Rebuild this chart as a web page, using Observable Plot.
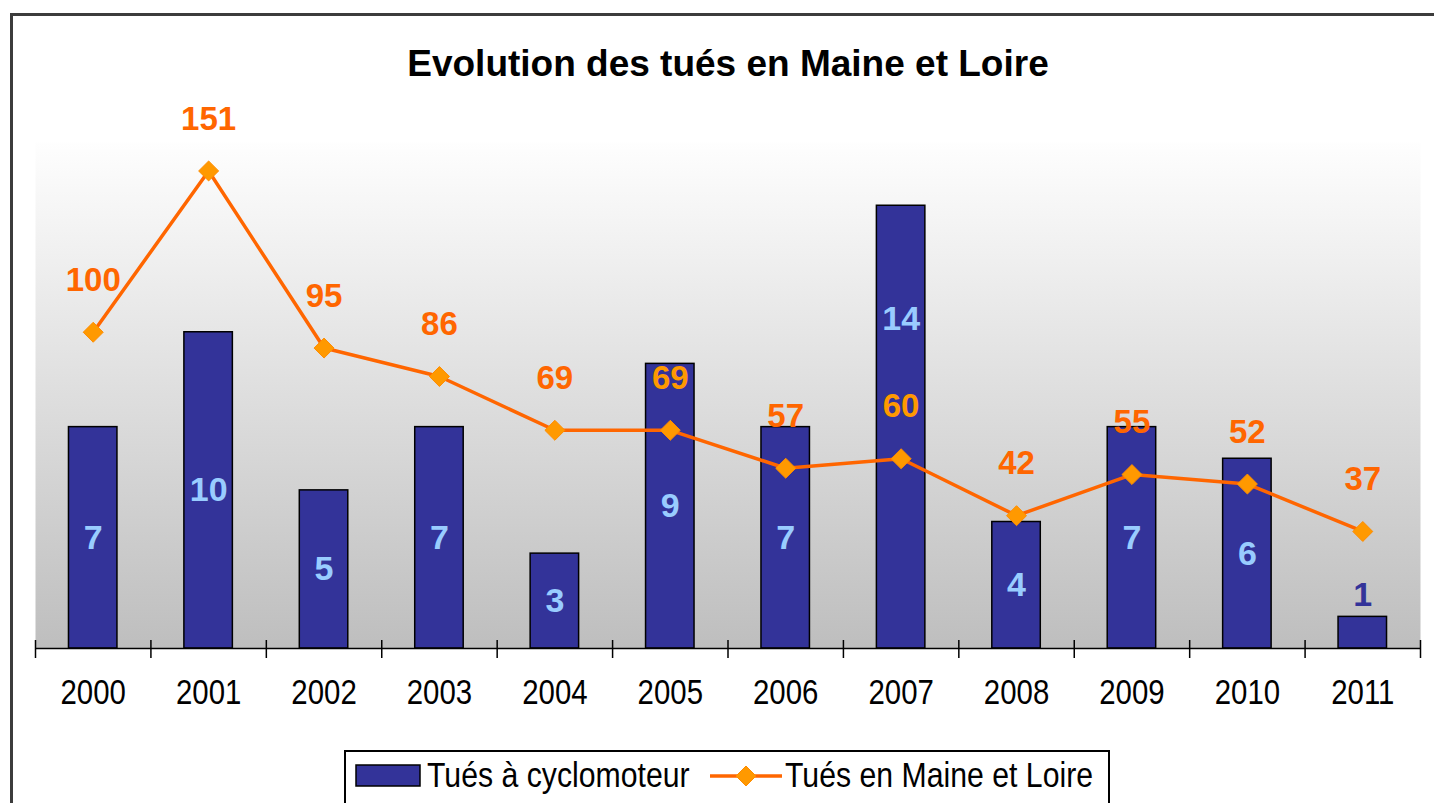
<!DOCTYPE html>
<html><head><meta charset="utf-8">
<script src="https://cdn.jsdelivr.net/npm/d3@7"></script>
<script src="https://cdn.jsdelivr.net/npm/@observablehq/plot@0.6"></script>
<style>
html,body{margin:0;padding:0;background:#fff;overflow:hidden;}
#wrap{position:relative;width:1434px;height:803px;overflow:hidden;background:#fff;}
#frame{position:absolute;left:10px;top:13px;width:2000px;height:2000px;border:3px solid #3c3c3c;box-sizing:border-box;}
#title{position:absolute;left:0;width:1456px;top:45px;text-align:center;font:bold 37px "Liberation Sans",Arial,sans-serif;line-height:37px;color:#000;}
#chart{position:absolute;left:0;top:0;}
#legend{position:absolute;left:344px;top:750px;width:766px;height:90px;border:2px solid #000;background:#fff;box-sizing:border-box;}
#legend svg{display:block;}
</style>
</head><body>
<div id="wrap">
  <div id="frame"></div>
  <div id="chart"></div>
  <div id="title">Evolution des tués en Maine et Loire</div>
  <div id="legend"></div>
</div>
<script>
const years = ["2000","2001","2002","2003","2004","2005","2006","2007","2008","2009","2010","2011"];
const moped = [7,10,5,7,3,9,7,14,4,7,6,1];           // Tués à cyclomoteur (axe 0–16)
const total = [100,151,95,86,69,69,57,60,42,55,52,37]; // Tués en Maine et Loire (axe 0–160)
const seriesNames = ["Tués à cyclomoteur","Tués en Maine et Loire"];

const W = 1434, H = 803, mL = 35, mR = 14, mT = 142, mB = 155;
const yMax = 160, barRatio = 10; // secondary axis 0–16 mapped on 0–160
const pxPerUnit = (H - mT - mB) / yMax;
const step = (W - mL - mR) / years.length;
const data = years.map((y, i) => ({year: y, moped: moped[i], total: total[i]}));

const lineDy = -52;
const lineLabelColor = d => (d.total + (-lineDy) / pxPerUnit) < d.moped * barRatio ? "#FF9900" : "#FF6600";

// bar label placement: centered, moved up when it would hit the line label, above bar if bar too short
function barLabelY(d) {
  const h = d.moped * barRatio;
  if (h < 20) return h + 7;
  const mid = h / 2;
  if (Math.abs(mid - d.total) < 15) return h - 36;
  return mid;
}
const barLabelColor = d => d.moped * barRatio < 20 ? "#333399" : "#99CCFF";

const sans = '"Liberation Sans", Arial, sans-serif';
const condense = 0.84; // horizontal squeeze to imitate the narrow axis/legend font
const yearFont = 35;

const chart = Plot.plot({
  width: W, height: H,
  marginLeft: mL, marginRight: mR, marginTop: mT, marginBottom: mB,
  style: {background: "transparent", overflow: "visible"},
  x: {domain: years, paddingInner: 0.58, paddingOuter: 0.29, round: false, axis: null},
  y: {domain: [0, yMax], axis: null},
  color: {type: "identity"},
  marks: [
    Plot.frame({fill: "url(#bggrad)", stroke: "none"}),
    Plot.barY(data, {x: "year", y: d => d.moped * barRatio, fill: "#333399", stroke: "#000", strokeWidth: 1.5}),
    Plot.ruleY([0], {stroke: "#000", strokeWidth: 1.5}),
    Plot.ruleX(years, {x: d => d, dx: -step / 2, y1: -10 / pxPerUnit, y2: 8 / pxPerUnit, stroke: "#000", strokeWidth: 1.5}),
    Plot.ruleX([years[years.length - 1]], {x: d => d, dx: step / 2, y1: -10 / pxPerUnit, y2: 8 / pxPerUnit, stroke: "#000", strokeWidth: 1.5}),
    Plot.text(years, {x: d => d, y: 0, dy: 44, text: d => d, fontSize: yearFont, fontFamily: sans, fill: "#000"}),
    Plot.text(data, {x: "year", y: barLabelY, text: d => String(d.moped), fill: barLabelColor, fontSize: 34, fontWeight: "bold", fontFamily: sans}),
    Plot.line(data, {x: "year", y: "total", stroke: "#FF6600", strokeWidth: 3.5}),
    Plot.dot(data, {x: "year", y: "total", symbol: "diamond2", r: 9, fill: "#FF9900", stroke: "#FF8C00", strokeWidth: 1}),
    Plot.text(data, {x: "year", y: "total", dy: lineDy, text: d => String(d.total), fill: lineLabelColor, fontSize: 33, fontWeight: "bold", fontFamily: sans})
  ]
});
chart.insertAdjacentHTML("afterbegin",
  '<defs><linearGradient id="bggrad" x1="0" y1="0" x2="0" y2="1">' +
  '<stop offset="0" stop-color="#FEFEFE"/><stop offset="1" stop-color="#BEBEBE"/></linearGradient></defs>');
// squeeze year labels horizontally (narrow font look)
chart.querySelectorAll('g[aria-label="text"]').forEach(g => {
  if (+g.getAttribute("font-size") !== yearFont) return;
  g.querySelectorAll("text").forEach(t => {
    const tr = t.getAttribute("transform") || "";
    t.setAttribute("transform", `${tr} scale(${condense},1)`);
  });
});
document.getElementById("chart").appendChild(chart);

// legend
const lg = d3.select("#legend").append("svg").attr("width", 762).attr("height", 86);
lg.append("rect").attr("x", 10).attr("y", 13).attr("width", 64).attr("height", 21)
  .attr("fill", "#333399").attr("stroke", "#000").attr("stroke-width", 1.5);
lg.append("text").attr("transform", `translate(81,35) scale(${condense},1)`)
  .attr("font-family", sans).attr("font-size", 36).text(seriesNames[0]);
lg.append("line").attr("x1", 364).attr("x2", 436).attr("y1", 24).attr("y2", 24)
  .attr("stroke", "#FF6600").attr("stroke-width", 3.5);
lg.append("path").attr("d", d3.symbol(d3.symbolDiamond2, Math.PI * 9 * 9)()).attr("transform", "translate(400,24)")
  .attr("fill", "#FF9900").attr("stroke", "#FF8C00");
lg.append("text").attr("transform", `translate(439,35) scale(${condense},1)`)
  .attr("font-family", sans).attr("font-size", 36).text(seriesNames[1]);
</script>
</body></html>
